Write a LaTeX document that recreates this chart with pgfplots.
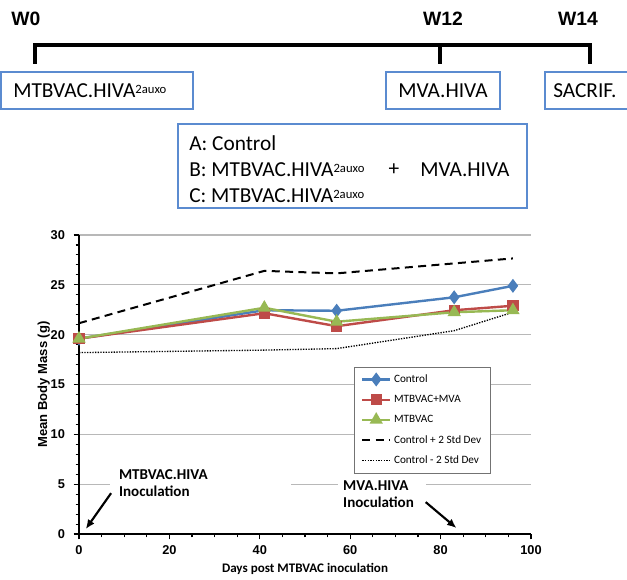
\documentclass[border=0pt]{standalone}
\usepackage{fontspec}
\setmainfont{Carlito}
\newfontfamily\arialfont{Liberation Sans}
\usepackage{pgfplots}
\pgfplotsset{compat=1.18}
\usetikzlibrary{arrows.meta}

\definecolor{boxblue}{HTML}{5B8BD0}
\definecolor{cblue}{HTML}{4A7EBB}
\definecolor{cred}{HTML}{BE4B48}
\definecolor{cgreen}{HTML}{98B954}

\newcommand{\auxo}{\raisebox{3.4pt}{\fontsize{9.5}{10}\selectfont 2auxo}}

\begin{document}
\begin{tikzpicture}
% top scheme, drawn in pixel units (y downward)
\begin{scope}[x=0.75pt,y=-0.75pt]
\useasboundingbox (0,0) rectangle (627,576);
\begin{scope}[font=\arialfont\bfseries\fontsize{14.5}{17}\selectfont]
\node[anchor=west,inner sep=0] at (11,19) {W0};
\node[inner sep=0] at (443,19) {W12};
\node[inner sep=0] at (578,19) {W14};
\end{scope}
\draw[line width=2.4pt] (35,64) -- (35,45) -- (590,45) -- (590,64);
\draw[line width=2.4pt] (440,45) -- (440,64);

\begin{scope}[font=\fontsize{16}{19}\selectfont]
\draw[boxblue, line width=1pt] (1,72) rectangle (193,109);
\node[anchor=west,inner sep=0] at (13,91) {MTBVAC.HIVA\auxo};
\draw[boxblue, line width=1pt] (386,72) rectangle (500,109);
\node[inner sep=0] at (443,91) {MVA.HIVA};
\draw[boxblue, line width=1pt] (545,72) rectangle (650,109);
\node[anchor=west,inner sep=0] at (553,91) {SACRIF.};

\draw[boxblue, line width=1pt] (178,124) rectangle (527,208);
\node[anchor=west,inner sep=0] at (189,143) {A: Control};
\node[anchor=west,inner sep=0] at (189,170) {B: MTBVAC.HIVA\auxo};
\node[inner sep=0] at (394,170) {+};
\node[anchor=west,inner sep=0] at (420,170) {MVA.HIVA};
\node[anchor=west,inner sep=0] at (189,196) {C: MTBVAC.HIVA\auxo};
\end{scope}
\end{scope}

\begin{axis}[
  at={(59.25pt,-400.5pt)}, anchor=south west,
  scale only axis, width=339pt, height=224.25pt,
  xmin=0, xmax=100, ymin=0, ymax=30,
  axis x line*=bottom, axis y line*=left,
  axis line style={line width=1pt},
  xtick={0,20,...,100}, ytick={0,5,...,30},
  minor x tick num=3, minor y tick num=4,
  tick align=outside, major tick length=4pt, minor tick length=2.5pt,
  tick style={black, line width=0.8pt},
  ymajorgrids, major grid style={black!28, line width=0.8pt},
  clip=false,
  /pgf/number format/assume math mode=true,
  ticklabel style={font=\arialfont\bfseries\fontsize{9.6}{11}\selectfont},
  xticklabel style={yshift=-1.5pt},
  yticklabel style={xshift=-3pt},
  xlabel={Days post MTBVAC inoculation},
  ylabel={Mean Body Mass (g)},
  xlabel style={font=\bfseries\fontsize{9.8}{12}\selectfont, at={(axis description cs:0.5,-0.117)}, anchor=center},
  ylabel style={font=\arialfont\bfseries\fontsize{9.8}{11}\selectfont, at={(axis description cs:-0.078,0.5)}, anchor=center},
  legend image code/.code={\draw[mark repeat=2,mark phase=2,#1] plot coordinates {(0pt,0pt) (10.5pt,0pt) (21pt,0pt)};},
  legend style={at={(axis cs:60.8,16.8)}, anchor=north west, draw=black!55, line width=0.8pt,
    font=\fontsize{8.4}{10}\selectfont, row sep=4.1pt, inner xsep=5pt, inner ysep=3.6pt},
  legend cell align=left,
]
\addplot[color=cblue, line width=1.8pt, mark=diamond*, mark size=3.8pt, mark options={solid}]
  coordinates {(0,19.6) (41,22.45) (57,22.4) (83,23.75) (96,24.9)};
\addplot[color=cred, line width=1.8pt, mark=square*, mark size=3.3pt, mark options={solid}]
  coordinates {(0,19.6) (41,22.15) (57,20.85) (83,22.45) (96,22.9)};
\addplot[color=cgreen, line width=1.8pt, mark=triangle*, mark size=4pt, mark options={solid}]
  coordinates {(0,19.6) (41,22.7) (57,21.3) (83,22.25) (96,22.45)};
\addplot[color=black, line width=1.5pt, dash pattern=on 6pt off 4pt, no marks]
  coordinates {(0,21.15) (41,26.4) (57,26.15) (83,27.15) (96,27.65)};
\addplot[color=black, line width=1pt, dash pattern=on 1pt off 1pt, no marks]
  coordinates {(0,18.2) (41,18.45) (57,18.6) (83,20.4) (96,22.25)};
\legend{Control, MTBVAC+MVA, MTBVAC, Control + 2 Std Dev, Control - 2 Std Dev}

\fill[white] (axis cs:6.8,4.3) rectangle (axis cs:47,5.7);
\fill[white] (axis cs:57.3,4.3) rectangle (axis cs:76.7,5.7);
\node[font=\bfseries\fontsize{11.3}{13}\selectfont, align=left, anchor=west, inner sep=0]
  at (axis cs:8.8,5.1) {MTBVAC.HIVA\\Inoculation};
\node[font=\bfseries\fontsize{11.3}{13}\selectfont, align=left, anchor=west, inner sep=0]
  at (axis cs:58.4,4.0) {MVA.HIVA\\Inoculation};
\draw[-{Latex[length=7pt,width=6pt]}, line width=1.6pt] (axis cs:7.1,4.1) -- (axis cs:1.5,0.5);
\draw[-{Latex[length=7pt,width=6pt]}, line width=1.6pt] (axis cs:76.7,3.2) -- (axis cs:83.5,0.6);
\end{axis}
\end{tikzpicture}
\end{document}
